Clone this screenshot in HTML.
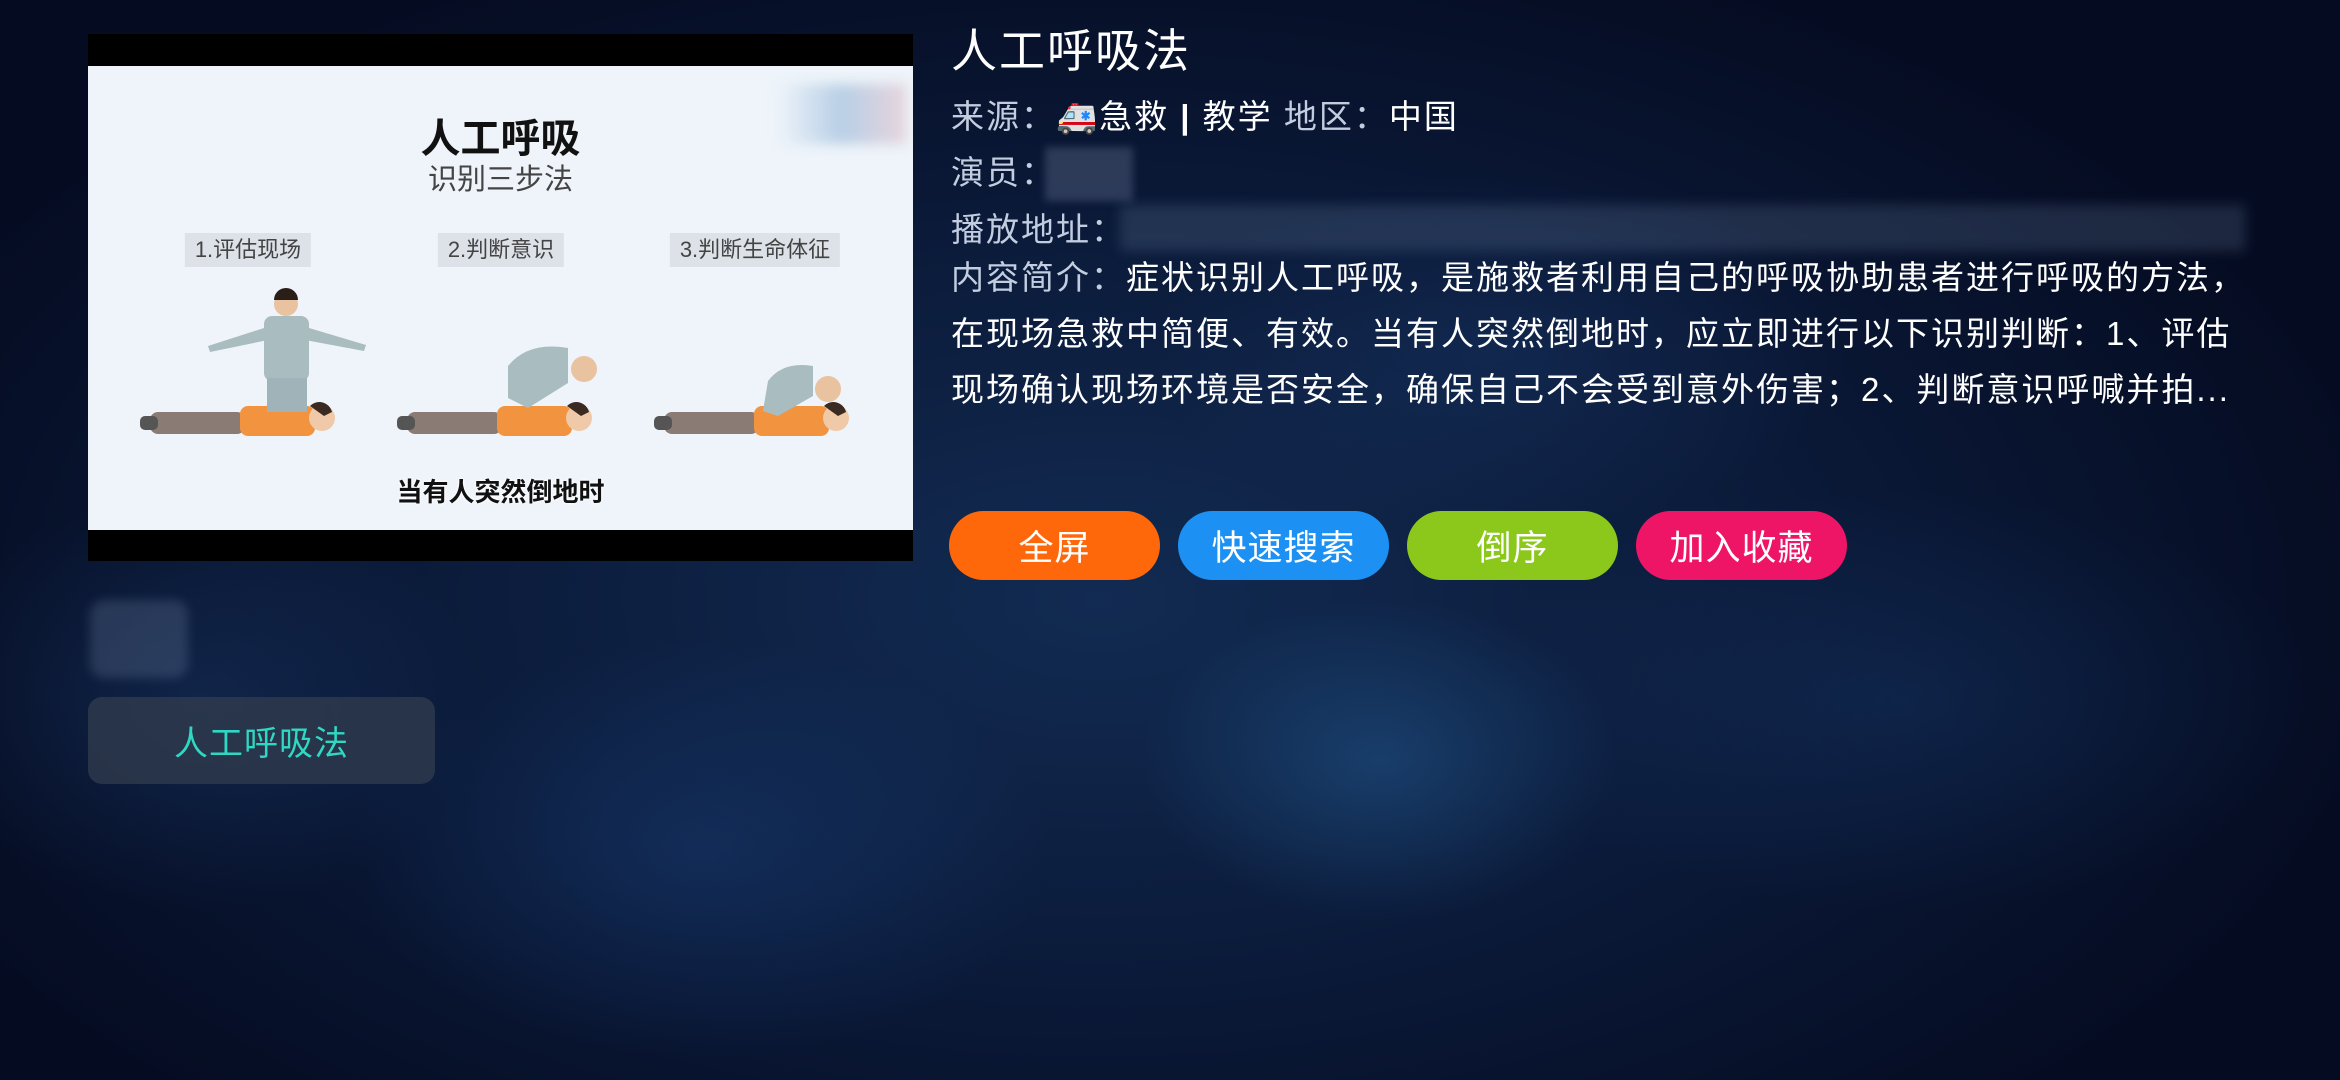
<!DOCTYPE html>
<html><head><meta charset="utf-8">
<style>
*{margin:0;padding:0;box-sizing:border-box}
body{width:2340px;height:1080px;overflow:hidden;font-family:"Liberation Sans","Noto Sans CJK SC",sans-serif;
background:
radial-gradient(ellipse 340px 230px at 1380px 760px,rgba(40,105,165,.4),transparent 70%),
radial-gradient(ellipse 500px 300px at 700px 850px,rgba(30,75,140,.35),transparent 70%),
radial-gradient(ellipse 600px 300px at 1900px 700px,rgba(25,65,120,.3),transparent 70%),
radial-gradient(ellipse 500px 250px at 1500px 350px,rgba(30,65,120,.3),transparent 70%),
radial-gradient(ellipse 400px 300px at 200px 700px,rgba(35,75,130,.3),transparent 70%),
radial-gradient(ellipse 1300px 700px at 1100px 600px,#122b52,#0a1836 60%,#050c22 100%);
position:relative;color:#fff}
.abs{position:absolute}
.label{color:#c3cde0}
.line{position:absolute;left:951px;font-size:33px;line-height:40px;white-space:nowrap;letter-spacing:2px}
.btn{position:absolute;top:511px;height:69px;width:211px;border-radius:35px;font-size:35px;color:#fff;display:flex;align-items:center;justify-content:center;letter-spacing:1px}
.step{position:absolute;top:167px;height:34px;background:#dce2e8;color:#444;font-size:22px;line-height:34px;padding:0 10px;transform:translateX(-50%);white-space:nowrap}
</style></head><body>
<div class="abs" style="left:88px;top:34px;width:825px;height:527px;background:#000">
 <div class="abs" style="left:0;top:32px;width:825px;height:464px;background:#eef4fa;overflow:hidden">
  <div class="abs" style="left:688px;top:18px;width:130px;height:60px;background:linear-gradient(90deg,#eef4fa,#b8cfe6 50%,#e6d4dc);filter:blur(6px)"></div>
  <div class="abs" style="left:0;width:825px;top:40px;text-align:center;font-size:40px;font-weight:bold;color:#111">人工呼吸</div>
  <div class="abs" style="left:0;width:825px;top:90px;text-align:center;font-size:29px;color:#444">识别三步法</div>
  <div class="step" style="left:160px">1.评估现场</div>
  <div class="step" style="left:413px">2.判断意识</div>
  <div class="step" style="left:667px">3.判断生命体征</div>
  <svg class="abs" style="left:0;top:0" width="825" height="464">
   <defs><g id="p"><rect x="0" y="0" width="95" height="22" rx="8" fill="#8a7b75"/><rect x="90" y="-6" width="75" height="30" rx="8" fill="#f2943f"/><circle cx="172" cy="6" r="13" fill="#f0c9a8"/><path d="M160 -6 a13 13 0 0 1 22 6 l-8 4z" fill="#3a2a22"/><rect x="-10" y="4" width="18" height="14" rx="5" fill="#555"/></g></defs>
   <use href="#p" x="62" y="346"/><use href="#p" x="319" y="346"/><use href="#p" x="576" y="346"/>
   <g fill="#a9bcc0"><rect x="176" y="250" width="45" height="65" rx="8"/><rect x="179" y="312" width="40" height="34" fill="#9fb3b9"/><path d="M176 262 L120 280 L122 286 L180 274z"/><path d="M221 262 L278 279 L276 285 L217 274z"/></g>
   <circle cx="198" cy="238" r="12" fill="#e9c2a0"/><path d="M186 234 a12 12 0 0 1 24 0z" fill="#2a1e18"/>
   <g fill="#a9bcc0"><path d="M420 300 q20 -25 60 -18 l0 35 l-40 25 l-20 -10z"/><path d="M680 315 q15 -20 45 -15 l0 30 l-35 20 l-15 -5z"/></g>
   <circle cx="496" cy="303" r="13" fill="#e9c2a0"/><circle cx="740" cy="323" r="13" fill="#e9c2a0"/>
  </svg>
  <div class="abs" style="left:0;width:825px;top:406px;text-align:center;font-size:26px;font-weight:bold;color:#111;text-shadow:0 0 3px #fff,0 0 3px #fff">当有人突然倒地时</div>
 </div>
</div>
<div class="abs" style="left:90px;top:600px;width:98px;height:78px;border-radius:14px;background:rgba(140,160,190,.22);filter:blur(5px)"></div>
<div class="abs" style="left:88px;top:697px;width:347px;height:87px;border-radius:14px;background:rgba(50,60,78,.75);color:#2fd8c2;font-size:34px;letter-spacing:1px;display:flex;align-items:center;justify-content:center">人工呼吸法</div>

<div class="abs" style="left:951px;top:22px;font-size:46px;line-height:58px;letter-spacing:2px">人工呼吸法</div>
<div class="line" style="top:97px"><span class="label">来源：</span>🚑急救 <b>|</b> 教学 <span class="label">地区：</span>中国</div>
<div class="line" style="top:153px"><span class="label">演员：</span></div>
<div class="abs" style="left:1045px;top:147px;width:88px;height:54px;background:rgba(150,165,195,.25);filter:blur(4px)"></div>
<div class="line" style="top:210px"><span class="label">播放地址：</span></div>
<div class="abs" style="left:1120px;top:205px;width:1125px;height:46px;background:rgba(120,140,175,.22);filter:blur(6px)"></div>
<div class="line" style="top:250px;line-height:56px;white-space:nowrap"><span class="label">内容简介：</span>症状识别人工呼吸，是施救者利用自己的呼吸协助患者进行呼吸的方法，<br>在现场急救中简便、有效。当有人突然倒地时，应立即进行以下识别判断：1、评估<br>现场确认现场环境是否安全，确保自己不会受到意外伤害；2、判断意识呼喊并拍...</div>

<div class="btn" style="left:949px;background:#ff680a">全屏</div>
<div class="btn" style="left:1178px;background:#1d91f3">快速搜索</div>
<div class="btn" style="left:1407px;background:#8cc81c">倒序</div>
<div class="btn" style="left:1636px;background:#ef1566">加入收藏</div>
</body></html>
